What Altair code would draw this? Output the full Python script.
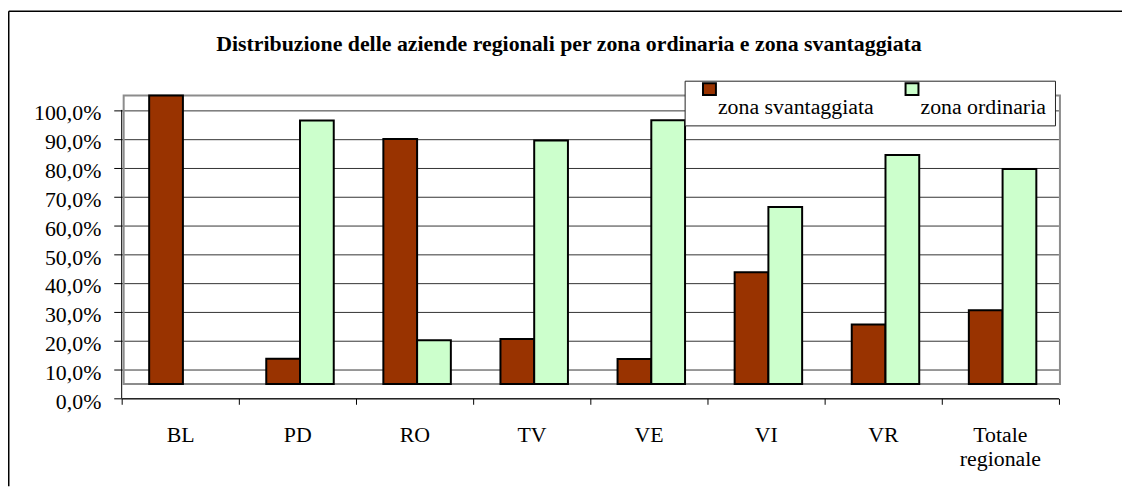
import altair as alt
import pandas as pd

# ---- data ----
categories = ["BL", "PD", "RO", "TV", "VE", "VI", "VR", "Totale regionale"]
series = ["zona svantaggiata", "zona ordinaria"]
svantaggiata = [100.0, 8.7, 84.9, 15.6, 8.6, 38.7, 20.6, 25.5]
ordinaria = [0.0, 91.3, 15.1, 84.4, 91.4, 61.3, 79.4, 74.5]
y_ticks = [0, 10, 20, 30, 40, 50, 60, 70, 80, 90, 100]
title_text = "Distribuzione delle aziende regionali per zona ordinaria e zona svantaggiata"
colors = ["#993300", "#CCFFCC"]

# ---- layout / style constants ----
FLOOR = 5          # the chart floor is drawn raised (pseudo-3D look)
W, H = 943.5, 305
PL, PT, PR, PB = 114.5, 86.4, 64, 88.6
FONT = "Liberation Serif"
LEG_SWATCH_X = [585.5, 789.5]
LEG_TEXT_X = [600.5, 804.5]

rows = []
for i, c in enumerate(categories):
    rows.append({"cat": c, "serie": series[0], "value": svantaggiata[i]})
    rows.append({"cat": c, "serie": series[1], "value": ordinaria[i]})
df = pd.DataFrame(rows)
one = pd.DataFrame({"t": [title_text]})

yscale = alt.Scale(domain=[0, 105], nice=False, zero=True)
xscale = alt.Scale(domain=categories, paddingInner=0, paddingOuter=0)
y_axis = alt.Axis(
    title=None, values=y_ticks, grid=True, gridColor="#333333", gridWidth=1,
    domain=False, tickSize=8, tickColor="black", labelOverlap=False,
    labelBound=False,
    labelFont=FONT, labelFontSize=22, labelColor="black", labelPadding=13,
    labelBaseline="alphabetic", labelOffset=10,
    labelExpr="replace(format(datum.value, '.1f'), '.', ',') + '%'",
)

# outer frame (cut by the window on right / bottom)
frame_top = alt.Chart(one).mark_rule(color="black", strokeWidth=1.5).encode(
    x=alt.value(-PL + 0.75), x2=alt.value(W + PR), y=alt.value(-PT + 1.5)
)
frame_left = alt.Chart(one).mark_rule(color="black", strokeWidth=1.5).encode(
    x=alt.value(-PL + 0.75), y=alt.value(-PT + 1.5), y2=alt.value(H + PB)
)

# grey plot-area box (raised floor)
box = alt.Chart(one).mark_rect(filled=False, stroke="#8c8c8c", strokeWidth=2).encode(
    x=alt.value(2), x2=alt.value(W + 1.5),
    y=alt.Y(datum=105, type="quantitative", scale=yscale, axis=y_axis),
    y2=alt.Y2(datum=FLOOR),
)

bars = (
    alt.Chart(df)
    .transform_filter("datum.value > 0")
    .transform_calculate(top=f"datum.value + {FLOOR}", base=f"{FLOOR}")
    .mark_bar(stroke="black", strokeWidth=2)
    .encode(
        x=alt.X(
            "cat:N", sort=categories, scale=xscale,
            axis=alt.Axis(
                title=None, labelAngle=0, tickBand="extent", tickSize=6,
                tickColor="black", domainColor="black", domainWidth=1,
                labelFont=FONT, labelFontSize=22, labelColor="black",
                labelPadding=20, labelBaseline="top", labelLineHeight=25,
                labelExpr="datum.label == 'Totale regionale' ? ['Totale', 'regionale'] : datum.label",
            ),
        ),
        xOffset=alt.XOffset(
            "serie:N", sort=series,
            scale=alt.Scale(domain=series, paddingInner=0, paddingOuter=0.735, align=0.554),
        ),
        y=alt.Y("top:Q", scale=yscale, axis=y_axis),
        y2="base:Q",
        color=alt.Color(
            "serie:N", sort=series,
            scale=alt.Scale(domain=series, range=colors),
            legend=None,
        ),
    )
)

yaxis_line = alt.Chart(one).mark_rule(color="black", strokeWidth=1).encode(
    x=alt.value(0),
    y=alt.Y(datum=0, type="quantitative", scale=yscale, axis=y_axis),
    y2=alt.Y2(datum=100),
)

legend_box = alt.Chart(one).mark_rect(fill="white", stroke="#222222", strokeWidth=1).encode(
    x=alt.value(567.5), x2=alt.value(940.5), y=alt.value(-14.4), y2=alt.value(30.6)
)

legend_layers = []
for i, s in enumerate(series):
    sdf = pd.DataFrame({"s": [s]})
    legend_layers.append(
        alt.Chart(sdf).mark_rect(fill=colors[i], stroke="black", strokeWidth=2).encode(
            x=alt.value(LEG_SWATCH_X[i]), x2=alt.value(LEG_SWATCH_X[i] + 13),
            y=alt.value(-12.4), y2=alt.value(-0.6),
        )
    )
    legend_layers.append(
        alt.Chart(sdf).mark_text(
            font=FONT, fontSize=22, color="black", align="left", baseline="alphabetic"
        ).encode(text="s:N", x=alt.value(LEG_TEXT_X[i]), y=alt.value(18.3))
    )

title = alt.Chart(one).mark_text(
    font=FONT, fontSize=22, fontWeight="bold", color="black", align="center", baseline="alphabetic"
).encode(text="t:N", x=alt.value(450.5), y=alt.value(-44.4))

chart = (
    alt.layer(frame_top, frame_left, box, bars, yaxis_line, legend_box, *legend_layers, title)
    .properties(
        width=W, height=H, autosize="none",
        padding={"left": PL, "top": PT, "right": PR, "bottom": PB},
        background="white",
    )
    .configure_view(stroke=None)
)

chart.save("out.html", embed_options={"renderer": "svg", "actions": False})
